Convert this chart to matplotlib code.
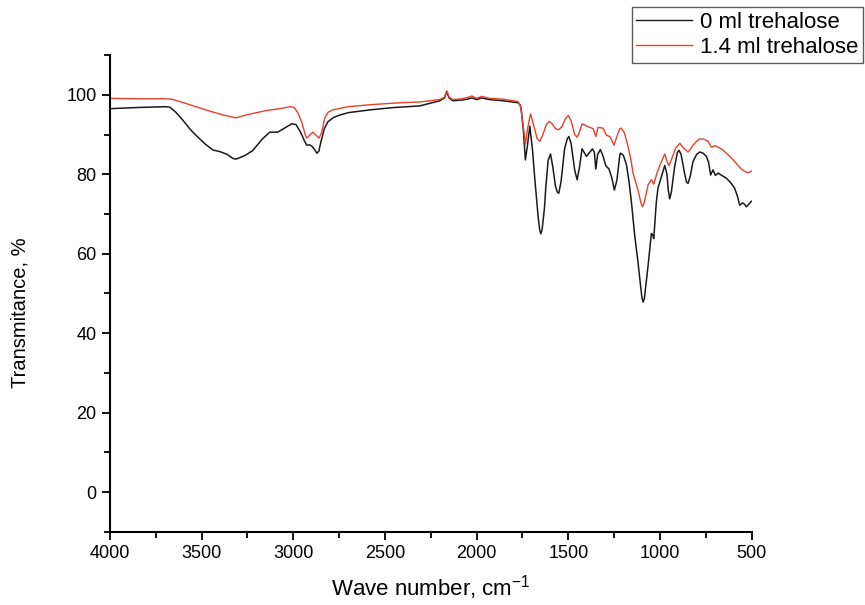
import matplotlib
matplotlib.use("Agg")
import matplotlib.pyplot as plt
from matplotlib.ticker import MultipleLocator

# %% Setup
plt.rcParams['font.family'] = ['Liberation Sans', 'DejaVu Sans']
plt.rcParams['mathtext.default'] = 'regular'

# %% Data

# 0 ml trehalose
wn_0 = [4000, 3850, 3700, 3673, 3640, 3600, 3560, 3526, 3480, 3438, 3400,
        3360, 3330, 3313, 3290, 3260, 3220, 3170, 3128, 3084, 3040, 3008,
        2985, 2960, 2940, 2926, 2910, 2899, 2885, 2871, 2860, 2850, 2830,
        2811, 2780, 2746, 2700, 2650, 2582, 2450, 2310, 2201, 2175, 2163,
        2150, 2130, 2076, 2050, 2026, 2000, 1972, 1930, 1857, 1774, 1762,
        1756, 1745, 1734, 1722, 1710, 1695, 1683, 1665, 1656, 1650, 1643,
        1630, 1623, 1610, 1597, 1585, 1570, 1560, 1552, 1540, 1520, 1505,
        1497, 1485, 1465, 1452, 1440, 1425, 1401, 1380, 1368, 1358, 1350,
        1340, 1325, 1310, 1296, 1278, 1262, 1249, 1235, 1220, 1216, 1200,
        1183, 1170, 1156, 1138, 1120, 1105, 1098, 1092, 1085, 1075, 1065,
        1047, 1040, 1034, 1020, 1011, 992, 974, 962, 955, 947, 938, 920,
        905, 896, 885, 865, 855, 847, 835, 820, 800, 783, 765, 747, 735,
        724, 711, 698, 683, 660, 638, 615, 593, 578, 565, 550, 538, 529,
        515, 502]
t_0 = [96.5, 96.8, 97.0, 96.9, 95.6, 93.5, 91.2, 89.6, 87.6, 86.1, 85.7,
       85.0, 84.0, 83.8, 84.2, 84.8, 86.0, 88.8, 90.6, 90.6, 91.8, 92.7,
       92.5, 90.6, 88.5, 87.3, 87.4, 87.1, 86.3, 85.3, 85.8, 88.0, 91.5,
       93.2, 94.3, 94.9, 95.5, 95.8, 96.2, 96.8, 97.2, 98.5, 99.2, 100.8,
       99.2, 98.5, 98.7, 98.9, 99.2, 98.8, 99.2, 98.8, 98.5, 98.0, 97.4,
       96.0, 91.0, 83.6, 87.5, 92.1, 86.0, 79.0, 69.5, 66.0, 65.0, 66.0,
       71.5, 76.5, 83.5, 85.1, 82.0, 77.0, 75.5, 75.2, 78.0, 86.5, 89.0,
       89.5, 87.8, 81.0, 78.6, 81.5, 86.4, 84.5, 85.7, 86.4, 85.5, 81.3,
       85.0, 86.2, 84.5, 82.2, 81.3, 79.0, 76.0, 78.5, 84.5, 85.3, 84.8,
       82.4, 78.5, 73.1, 64.6, 57.9, 51.5, 48.8, 47.8, 48.8, 53.0, 57.0,
       65.1, 64.8, 63.8, 73.0, 76.5, 79.4, 82.2, 80.0, 76.0, 73.8, 75.5,
       82.0, 85.5, 86.0, 85.0, 80.0, 78.0, 77.7, 79.5, 83.2, 85.0, 85.6,
       85.3, 84.5, 83.0, 79.8, 81.1, 79.7, 80.3, 79.6, 79.0, 77.9, 76.5,
       74.5, 72.2, 72.8, 72.4, 71.8, 72.5, 73.2]

# 1.4 ml trehalose
wn_14 = [4000, 3850, 3700, 3662, 3550, 3450, 3380, 3313, 3250, 3150,
         3060, 3018, 2995, 2975, 2953, 2935, 2926, 2915, 2893, 2875, 2860,
         2845, 2828, 2810, 2784, 2700, 2582, 2450, 2310, 2201, 2175, 2163,
         2150, 2130, 2076, 2050, 2026, 2000, 1972, 1930, 1857, 1774, 1760,
         1747, 1734, 1722, 1706, 1690, 1670, 1656, 1640, 1620, 1605, 1590,
         1570, 1552, 1535, 1515, 1500, 1485, 1465, 1452, 1440, 1425, 1395,
         1365, 1350, 1338, 1310, 1292, 1274, 1262, 1251, 1235, 1220, 1211,
         1195, 1174, 1160, 1147, 1120, 1105, 1096, 1085, 1065, 1047, 1034,
         1015, 1001, 974, 960, 951, 935, 915, 892, 870, 847, 835, 820, 800,
         783, 760, 738, 720, 700, 683, 660, 638, 615, 593, 570, 556, 540,
         529, 515, 502]
t_14 = [99.1, 99.0, 99.0, 98.9, 97.3, 95.8, 94.9, 94.2, 95.0, 96.0,
        96.6, 97.0, 96.8, 95.5, 93.0, 90.0, 89.1, 89.6, 90.6, 89.8, 89.1,
        90.5, 94.2, 95.6, 96.2, 97.0, 97.5, 97.9, 98.2, 98.8, 99.4, 101.0,
        99.4, 98.8, 99.0, 99.3, 99.7, 99.1, 99.6, 99.1, 98.9, 98.3, 97.0,
        92.5, 87.6, 91.5, 95.2, 92.5, 89.0, 88.3, 89.8, 92.5, 93.3, 92.8,
        91.5, 91.2, 92.0, 94.0, 94.8, 93.5, 90.0, 89.3, 90.5, 92.7, 92.0,
        91.5, 89.5, 91.8, 91.6, 89.8, 89.5, 88.5, 87.3, 89.5, 91.4, 91.6,
        90.5, 87.0, 84.0, 80.3, 76.0, 73.0, 71.8, 73.0, 77.3, 78.6, 77.5,
        80.5, 82.2, 85.1, 83.0, 82.2, 84.0, 86.5, 87.8, 86.5, 85.6, 86.2,
        87.3, 88.3, 88.9, 88.8, 88.3, 86.8, 87.2, 86.8, 86.2, 85.3, 84.3,
        83.2, 82.0, 81.3, 80.8, 80.5, 80.4, 80.8]

labels = ['0 ml trehalose', '1.4 ml trehalose']

# %% Plot
fig = plt.figure(figsize=(8.65, 6.05), dpi=100)
ax = fig.add_axes([0.127, 0.121, 0.742, 0.788])

ax.plot(wn_0, t_0, color='#1a1a1a', lw=1.1, label=labels[0])
ax.plot(wn_14, t_14, color='#e8402a', lw=1.0, label=labels[1])

# axes
ax.set_xlim(4000, 500)
ax.set_ylim(-10, 110)
ax.xaxis.set_major_locator(MultipleLocator(500))
ax.xaxis.set_minor_locator(MultipleLocator(250))
ax.yaxis.set_major_locator(MultipleLocator(20))
ax.yaxis.set_minor_locator(MultipleLocator(10))
for s in ['top', 'right']:
    ax.spines[s].set_visible(False)
for s in ['left', 'bottom']:
    ax.spines[s].set_linewidth(1.5)
ax.tick_params(which='major', direction='out', length=6, width=1.3,
               labelsize=13)
ax.tick_params(which='minor', direction='out', length=4, width=1.3)

# labels
ax.set_xlabel('Wave number, cm$^{-1}$', fontsize=16, labelpad=8)
ax.set_ylabel('Transmitance, %', fontsize=14.5)
ax.yaxis.set_label_coords(-0.125, 0.46)

# legend
leg = fig.legend(loc='upper right', bbox_to_anchor=(0.998, 0.988),
                 frameon=True, fancybox=False, handlelength=2.5,
                 borderpad=0.2, labelspacing=0.2, handletextpad=0.4,
                 borderaxespad=0.0, prop={'family': 'Liberation Sans', 'size': 16})
leg.get_frame().set_edgecolor('#333333')
leg.get_frame().set_linewidth(1.0)
for line in leg.get_lines():
    line.set_linewidth(1.0)

fig.savefig('out.png', dpi=100)
